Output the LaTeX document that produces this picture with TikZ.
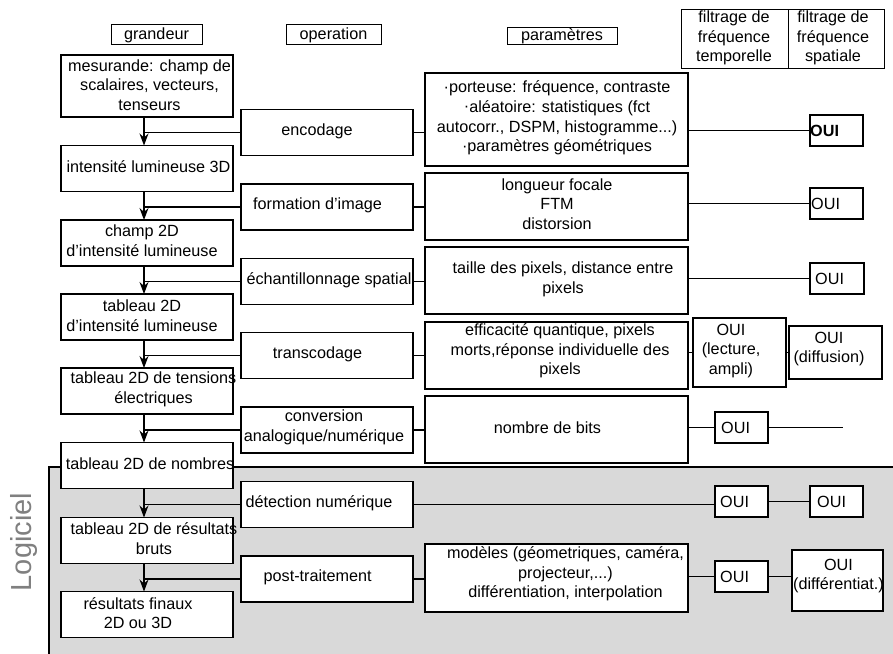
\documentclass[tikz,border=0pt]{standalone}
\usepackage{fontspec}
\setmainfont{Liberation Sans}
\usetikzlibrary{arrows.meta}
\definecolor{soft}{RGB}{217,217,217}
\definecolor{logi}{RGB}{128,128,128}
\newcommand{\bul}{\raisebox{0.5pt}{·}}
\begin{document}
\begin{tikzpicture}[x=1pt,y=-1pt,
  box/.style={draw, line width=1.8pt, fill=white, inner sep=0pt, outer sep=0pt},
  hbox/.style={draw, line width=0.9pt, inner sep=0pt, outer sep=0pt},
  lbox/.style={box, minimum width=172pt, minimum height=46pt},
  obox/.style={box, minimum width=172pt, minimum height=46pt},
  pbox/.style={box, minimum width=263pt, minimum height=67pt},
  qbox/.style={box, minimum width=53pt, minimum height=31pt},
  txt/.style={inner sep=0pt, align=center, font=\fontsize{16.2}{19.7}\selectfont},
  con/.style={line width=1.3pt},
  arr/.style={line width=1.3pt, -{Stealth[length=12pt, width=9pt, inset=4pt]}}]
\useasboundingbox (0,0) rectangle (893,653);
% software region
\fill[soft] (49,467) rectangle (895,656);
\draw[line width=1.3pt] (895,467) -- (49,467) -- (49,656);
\node[txt, rotate=90, text=logi, font=\fontsize{29}{30}\selectfont] (logi) at (24,542) {Logiciel};
% headers
\node[hbox, minimum width=91pt, minimum height=20pt] (hg) at (156.5,34) {};
\node[txt] (hgt) at (156.5,35) {grandeur};
\node[hbox, minimum width=95pt, minimum height=20pt] (ho) at (333.5,34) {};
\node[txt] (hot) at (333.5,35) {operation};
\node[hbox, minimum width=110pt, minimum height=17pt] (hp) at (562,36) {};
\node[txt] (hpt) at (562,36) {paramètres};
\node[hbox, minimum width=107pt, minimum height=59pt] (hf1) at (734.5,38.5) {};
\node[hbox, minimum width=96pt, minimum height=59pt] (hf2) at (836,38.5) {};
\node[txt] (hf1t) at (734,38) {filtrage de\\fréquence\\temporelle};
\node[txt] (hf2t) at (833,38) {filtrage de\\fréquence\\spatiale};
% left column
\coordinate (vx) at (144,0);
\node[lbox, minimum height=62pt] (L1) at (147,86) {};
\node[lbox] (L2) at (147,168.5) {};
\node[lbox] (L3) at (147,243) {};
\node[lbox] (L4) at (147,317) {};
\node[lbox] (L5) at (147,391) {};
\node[lbox] (L6) at (147,465.5) {};
\node[lbox] (L7) at (147,540.5) {};
\node[lbox] (L8) at (147,614.5) {};
\node[txt] (L1t) at (149.5,85) {mesurande: champ de\\scalaires, vecteurs,\\tenseurs};
\node[txt] (L2t) at (148.5,167) {intensité lumineuse 3D};
\node[txt] (L3t) at (142,241) {champ 2D\\d’intensité lumineuse};
\node[txt] (L4t) at (142,315.5) {tableau 2D\\d’intensité lumineuse};
\node[txt] (L5t) at (153.5,389.5) {tableau 2D de tensions\\électriques};
\node[txt] (L6t) at (150,464) {tableau 2D de nombres};
\node[txt] (L7t) at (154,538.5) {tableau 2D de résultats\\bruts};
\node[txt] (L8t) at (138,613) {résultats finaux\\2D ou 3D};
% operation column
\node[obox] (O1) at (327,132.5) {};
\node[obox] (O2) at (327,207) {};
\node[obox] (O3) at (327,281.5) {};
\node[obox] (O4) at (327,355.5) {};
\node[obox] (O5) at (327,430) {};
\node[obox] (O6) at (327,504.5) {};
\node[obox] (O7) at (327,579) {};
\node[txt] (O1t) at (317,131) {encodage};
\node[txt] (O2t) at (317.5,205) {formation d’image};
\node[txt] (O3t) at (329,280) {échantillonnage spatial};
\node[txt] (O4t) at (317.5,354) {transcodage};
\node[txt] (O5t) at (324,427) {conversion\\analogique/numérique};
\node[txt] (O6t) at (319,503) {détection numérique};
\node[txt] (O7t) at (317.7,577) {post-traitement};
% parameter column
\node[pbox, minimum height=93pt] (P1) at (556.5,119.5) {};
\node[pbox] (P2) at (556.5,206.5) {};
\node[pbox] (P3) at (556.5,280.5) {};
\node[pbox] (P4) at (556.5,355.5) {};
\node[pbox] (P5) at (556.5,429.5) {};
\node[pbox, minimum height=68pt] (P6) at (556.5,578) {};
\node[txt] (P1t) at (557,118) {\bul porteuse: fréquence, contraste\\\bul aléatoire: statistiques (fct\\autocorr., DSPM, histogramme...)\\\bul paramètres géométriques};
\node[txt] (P2t) at (557,204) {longueur focale\\FTM\\distorsion};
\node[txt] (P3t) at (563,279) {taille des pixels, distance entre\\pixels};
\node[txt] (P4t) at (560,351) {efficacité quantique, pixels\\morts,réponse individuelle des\\pixels};
\node[txt] (P5t) at (547.5,428) {nombre de bits};
\node[txt] (P6t) at (565.5,574) {modèles (géometriques, caméra,\\projecteur,...)\\différentiation, interpolation};
% filtering boxes
\node[qbox] (Q1) at (836.5,130.5) {};
\node[qbox] (Q2) at (836.5,203.5) {};
\node[qbox, minimum width=54pt] (Q3) at (837,278.5) {};
\node[box, minimum width=93pt, minimum height=69pt] (Q4) at (739.5,352.5) {};
\node[box, minimum width=93pt, minimum height=53pt] (Q5) at (835.5,352.5) {};
\node[qbox] (Q6) at (741.5,427.5) {};
\node[qbox] (Q7) at (741.5,501.5) {};
\node[qbox] (Q8) at (836.5,501.5) {};
\node[qbox] (Q9) at (741.5,576.5) {};
\node[box, minimum width=91pt, minimum height=61pt] (Q10) at (837.5,580.5) {};
\node[txt, anchor=west] (Q1t) at (810,130.5) {\textbf{OUI}};
\node[txt, anchor=west] (Q2t) at (811,203.5) {OUI};
\node[txt, anchor=west] (Q3t) at (815,278.5) {OUI};
\node[txt] (Q4t) at (731,351) {OUI\\(lecture,\\ampli)};
\node[txt] (Q5t) at (829,349) {OUI\\(diffusion)};
\node[txt, anchor=west] (Q6t) at (721,427.5) {OUI};
\node[txt, anchor=west] (Q7t) at (720,501.5) {OUI};
\node[txt, anchor=west] (Q8t) at (817,501.5) {OUI};
\node[txt, anchor=west] (Q9t) at (720,576.5) {OUI};
\node[txt] (Q10t) at (838.5,576) {OUI\\(différentiat.)};
\coordinate (end5) at (843,427.5);
% vertical flow
\foreach \a/\b in {L1/L2,L2/L3,L3/L4,L4/L5,L5/L6,L6/L7,L7/L8}
  \draw[arr] (\a.south -| vx) -- (\b.north -| vx);
% operation to flow
\foreach \o in {O1,O2,O3,O4,O5,O6,O7}
  \draw[con] (\o.west) -- (\o.west -| vx);
% operation to parameters
\foreach \o/\p in {O1/P1,O2/P2,O3/P3,O4/P4,O5/P5,O7/P6}
  \draw[con] (\o.east) -- (\o.east -| \p.west);
% parameters to filtering
\draw[con] (P1.east |- Q1.west) -- (Q1.west);
\draw[con] (P2.east |- Q2.west) -- (Q2.west);
\draw[con] (P3.east |- Q3.west) -- (Q3.west);
\draw[con] (P4.east |- Q4.west) -- (Q4.west);
\draw[con] (Q4.east) -- (Q5.west);
\draw[con] (P5.east |- Q6.west) -- (Q6.west);
\draw[con] (Q6.east) -- (end5);
\draw[con] (O6.east) -- (O6.east -| Q7.west);
\draw[con] (Q7.east) -- (Q8.west);
\draw[con] (P6.east |- Q9.west) -- (Q9.west);
\draw[con] (Q9.east) -- (Q9.east -| Q10.west);
\end{tikzpicture}
\end{document}
